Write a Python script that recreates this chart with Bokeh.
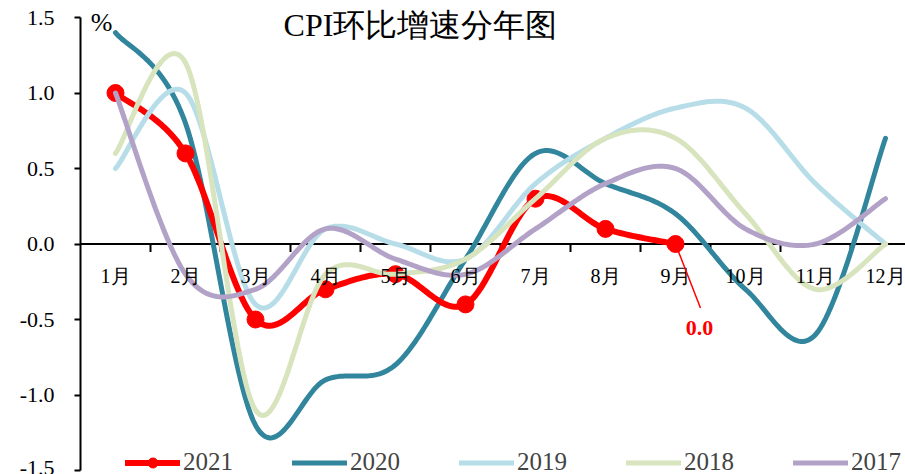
import numpy as np
from bokeh.plotting import figure
from bokeh.models import (Range1d, FixedTicker, PrintfTickFormatter, Span,
                          Legend, LegendItem)
from bokeh.core.properties import value
from bokeh.embed import file_html
from bokeh.resources import INLINE

# ---- data: month-on-month CPI change (%) by year ----
months = ["1月", "2月", "3月", "4月", "5月", "6月", "7月", "8月", "9月", "10月", "11月", "12月"]
cpi_2021 = [1.0, 0.6, -0.5, -0.3, -0.2, -0.4, 0.3, 0.1, 0.0]
cpi_2020 = [1.4, 0.8, -1.2, -0.9, -0.8, -0.1, 0.6, 0.4, 0.2, -0.3, -0.6, 0.7]
cpi_2019 = [0.5, 1.0, -0.4, 0.1, 0.0, -0.1, 0.4, 0.7, 0.9, 0.9, 0.4, 0.0]
cpi_2018 = [0.6, 1.2, -1.1, -0.2, -0.2, -0.1, 0.3, 0.7, 0.7, 0.2, -0.3, 0.0]
cpi_2017 = [1.0, -0.2, -0.3, 0.1, -0.1, -0.2, 0.1, 0.4, 0.5, 0.1, 0.0, 0.3]
y_ticks = [-1.5, -1.0, -0.5, 0.0, 0.5, 1.0, 1.5]

COLORS = {
    "2021": "#FF0000",
    "2020": "#31859C",
    "2019": "#B7DEE8",
    "2018": "#D7E4BD",
    "2017": "#B3A2C7",
}
SERIF = "Liberation Serif"

W, H = 905, 474
LEFT = 80
PX_PER_CAT = 70
Y_MIN, Y_MAX = -1.5, 1.5
PX_PER_UNIT = 151.0
PAD_TOP, PAD_BOTTOM = 17, 4          # pixels between the axis ends and the page edges


def cat_x(n):
    """Category centres on a 0..12 axis (one unit per month)."""
    return [i + 0.5 for i in range(n)]


def smooth(xs, ys, steps=30):
    """Cubic Bezier smoothing through every point (Catmull-Rom style)."""
    pts = np.column_stack([xs, ys]).astype(float)
    n = len(pts)
    out = [pts[0]]
    t = np.linspace(0, 1, steps)[1:, None]
    for i in range(n - 1):
        p0 = pts[i - 1] if i > 0 else pts[i]
        p1, p2 = pts[i], pts[i + 1]
        p3 = pts[i + 2] if i + 2 < n else pts[i + 1]
        c1 = p1 + (p2 - p0) / 6.0
        c2 = p2 - (p3 - p1) / 6.0
        seg = ((1 - t) ** 3) * p1 + 3 * ((1 - t) ** 2) * t * c1 \
            + 3 * (1 - t) * t ** 2 * c2 + t ** 3 * p2
        out.extend(seg)
    out = np.array(out)
    return out[:, 0], out[:, 1]


p = figure(
    frame_width=W - LEFT, frame_height=H,
    x_range=Range1d(0, (W - LEFT) / PX_PER_CAT),
    y_range=Range1d(Y_MIN - PAD_BOTTOM / PX_PER_UNIT, Y_MAX + PAD_TOP / PX_PER_UNIT),
    output_backend="svg", toolbar_location=None,
    min_border_left=LEFT, min_border_right=0, min_border_top=0, min_border_bottom=0,
    x_axis_type=None,
)
p.outline_line_color = None
p.xgrid.visible = False
p.ygrid.visible = False
p.background_fill_color = "white"
p.border_fill_color = "white"

# y axis
p.yaxis.bounds = (Y_MIN, Y_MAX)
p.yaxis.ticker = FixedTicker(ticks=y_ticks)
p.yaxis.formatter = PrintfTickFormatter(format="%.1f")
p.yaxis.axis_line_width = 2
p.yaxis.axis_line_color = "black"
p.yaxis.major_tick_line_width = 2
p.yaxis.major_tick_out = 6
p.yaxis.major_tick_in = 0
p.yaxis.minor_tick_out = 0
p.yaxis.minor_tick_in = 0
p.yaxis.major_label_standoff = 20
p.yaxis.major_label_text_font = SERIF
p.yaxis.major_label_text_font_size = "22px"
p.yaxis.major_label_text_color = "black"

# x axis drawn along y = 0
p.add_layout(Span(location=0, dimension="width", line_color="black",
                  line_width=2, level="underlay"))
bounds = list(range(1, len(months)))
tick_len = 8 / PX_PER_UNIT
p.segment(x0=bounds, y0=[0] * len(bounds), x1=bounds, y1=[-tick_len] * len(bounds),
          line_color="black", line_width=2)

# series (2020 first so the others sit above it)
renderers = {}
series = [("2020", cpi_2020), ("2021", cpi_2021), ("2019", cpi_2019),
          ("2018", cpi_2018), ("2017", cpi_2017)]
for name, vals in series:
    sx, sy = smooth(cat_x(len(vals)), vals)
    width = 6 if name == "2021" else 5
    r = p.line(sx, sy, line_color=COLORS[name], line_width=width,
               line_cap="round", line_join="round")
    renderers[name] = [r]
    if name == "2021":
        m = p.scatter(cat_x(len(vals)), vals, size=17, marker="circle",
                      fill_color=COLORS[name], line_color=COLORS[name])
        renderers[name].append(m)

# month labels under the zero line
p.text(x=cat_x(len(months)), y=[0] * len(months), text=months,
       y_offset=32, text_align="center", text_baseline="middle",
       text_font=value(SERIF), text_font_size="20px", text_color="black")

# latest value callout
last_x = cat_x(len(cpi_2021))[-1]
last_v = cpi_2021[-1]
LEAD_X, LEAD_Y = 8.857, -0.424
TAG_X, TAG_Y = 8.843, -0.556
p.segment(x0=[last_x], y0=[last_v], x1=[LEAD_X], y1=[LEAD_Y],
          line_color=COLORS["2021"], line_width=1.5)
p.text(x=[TAG_X], y=[TAG_Y], text=[f"{last_v:.1f}"], text_align="center",
       text_baseline="middle", text_font=value(SERIF),
       text_font_size="22px", text_font_style="bold", text_color=COLORS["2021"])

# title and unit
p.text(x=[4.857], y=[1.449], text=["CPI环比增速分年图"], text_align="center",
       text_baseline="middle", text_font=value(SERIF), text_font_size="32px",
       text_color="black")
p.text(x=[0.3], y=[1.47], text=["%"], text_align="center",
       text_baseline="middle", text_font=value(SERIF),
       text_font_size="26px", text_color="black")

legend = Legend(
    items=[LegendItem(label=n, renderers=renderers[n])
           for n in ["2021", "2020", "2019", "2018", "2017"]],
    orientation="horizontal", location=(45, -2),
    glyph_width=55, glyph_height=25, label_height=25, label_standoff=3,
    spacing=59, padding=0, margin=0,
    label_text_font=SERIF, label_text_font_size="25px",
    label_text_baseline="middle",
    border_line_color=None, background_fill_alpha=0,
)
p.add_layout(legend, "center")

open("out.html", "w").write(file_html(p, INLINE))
